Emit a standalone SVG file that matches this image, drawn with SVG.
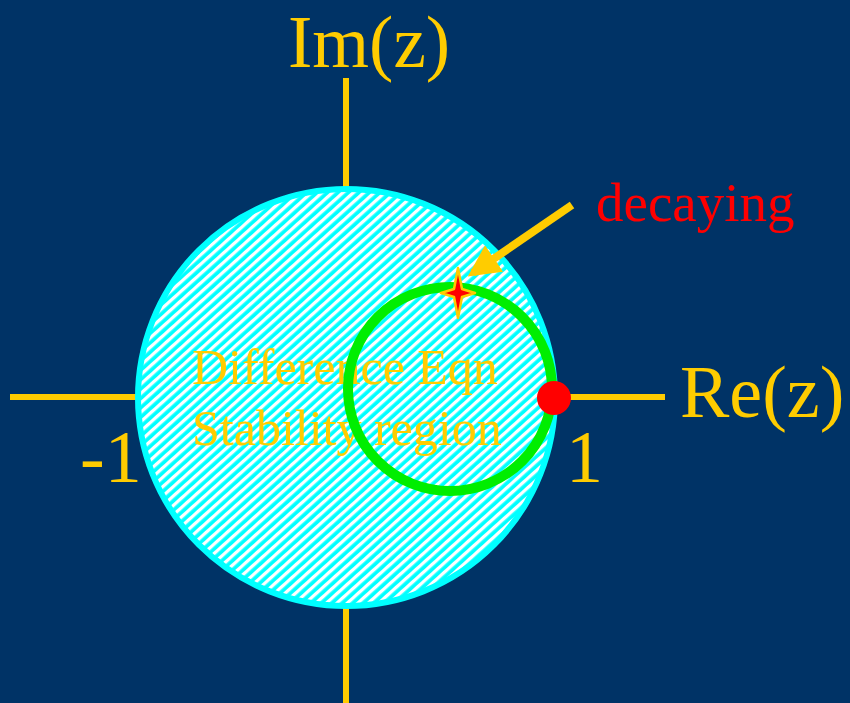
<svg xmlns="http://www.w3.org/2000/svg" width="850" height="703" viewBox="0 0 850 703">
<defs>
<style>
.lbl{font-family:"Liberation Serif","Times New Roman",serif;fill:#FFCC00}
.axis{stroke:#FFCC00;stroke-width:6}
</style>
<pattern id="hatch" width="7" height="7" patternUnits="userSpaceOnUse" patternTransform="rotate(48)">
<rect width="7" height="7" fill="#00FFFF"/>
<rect x="0" y="0" width="3.3" height="7" fill="#FFFFFF"/>
</pattern>
<marker id="ah" markerWidth="4" markerHeight="4" refX="3.2" refY="2" orient="auto" markerUnits="strokeWidth">
<path d="M0,0 L4,2 L0,4 Z" fill="#FFCC00"/>
</marker>
</defs>
<rect width="850" height="703" fill="#003366"/>
<g id="axes">
<line class="axis" x1="10" y1="397" x2="665" y2="397"/>
<line class="axis" x1="346" y1="78" x2="346" y2="703"/>
</g>
<g id="unit-circle">
<circle cx="346.5" cy="397.5" r="208.5" fill="url(#hatch)" stroke="#00FFFF" stroke-width="6"/>
</g>
<g id="region-label">
<text class="lbl" x="192" y="384" font-size="50">Difference Eqn</text>
<text class="lbl" x="192" y="445" font-size="50">Stability region</text>
</g>
<g id="green-circle">
<circle cx="450" cy="389" r="102" fill="none" stroke="#00EE00" stroke-width="10"/>
</g>
<g id="point-one">
<circle cx="554" cy="398" r="17" fill="#FF0000"/>
</g>
<g id="star">
<path d="M458,268 L462,289 L475,293 L462,297 L458,318 L454,297 L441,293 L454,289 Z" fill="#FF0000" stroke="#FFCC00" stroke-width="2.5" stroke-linejoin="round"/>
</g>
<g id="connectors">
<line x1="572" y1="205" x2="473" y2="273" stroke="#FFCC00" stroke-width="8" marker-end="url(#ah)"/>
</g>
<g id="labels">
<text class="lbl" x="288" y="67" font-size="73">Im(z)</text>
<text class="lbl" x="680" y="417" font-size="74">Re(z)</text>
<text class="lbl" x="80" y="482" font-size="74">-1</text>
<text class="lbl" x="566" y="482" font-size="74">1</text>
<text x="596" y="221" font-size="55" font-family="Liberation Serif, Times New Roman, serif" fill="#FF0000">decaying</text>
</g>
</svg>
